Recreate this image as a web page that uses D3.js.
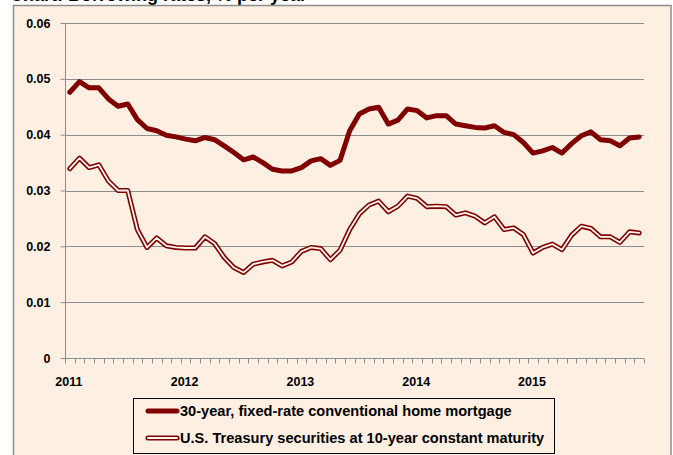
<!DOCTYPE html>
<html><head><meta charset="utf-8">
<script src="https://cdn.jsdelivr.net/npm/d3@7"></script>
<style>body{margin:0;background:#fff;}svg{display:block;}</style>
</head><body>
<svg id="c" width="673" height="455"></svg>
<script>
const years = ["2011","2012","2013","2014","2015"];
const months = [];
years.forEach(y => { for (let m = 1; m <= 12; m++) months.push(y + "-" + String(m).padStart(2, "0")); });
const yTicks = [0, 0.01, 0.02, 0.03, 0.04, 0.05, 0.06];
const yTickLabels = ["0", "0.01", "0.02", "0.03", "0.04", "0.05", "0.06"];
const seriesNames = ["30-year, fixed-rate conventional home mortgage", "U.S. Treasury securities at 10-year constant maturity"];
const mortgage = [
  0.0476,0.0495,0.0484,0.0484,0.0464,0.0451,0.0455,0.0427,0.0411,0.0407,0.0399,0.0396,
  0.0392,0.0389,0.0395,0.0391,0.0380,0.0368,0.0355,0.0360,0.0350,0.0338,0.0335,0.0335,
  0.0341,0.0353,0.0357,0.0345,0.0354,0.0407,0.0437,0.0446,0.0449,0.0419,0.0426,0.0446,
  0.0443,0.0430,0.0434,0.0434,0.0419,0.0416,0.0413,0.0412,0.0416,0.0404,0.0400,0.0386,
  0.0367,0.0371,0.0377,0.0367,0.0384,0.0398,0.0405,0.0391,0.0389,0.0380,0.0394,0.0396];
const treasury = [
  0.0339,0.0358,0.0341,0.0346,0.0317,0.0300,0.0300,0.0230,0.0198,0.0215,0.0201,0.0198,
  0.0197,0.0197,0.0217,0.0205,0.0180,0.0162,0.0153,0.0168,0.0172,0.0175,0.0165,0.0172,
  0.0191,0.0198,0.0196,0.0176,0.0193,0.0230,0.0258,0.0274,0.0281,0.0262,0.0272,0.0290,
  0.0286,0.0271,0.0272,0.0271,0.0256,0.0260,0.0254,0.0242,0.0253,0.0230,0.0233,0.0221,
  0.0188,0.0198,0.0204,0.0194,0.0220,0.0236,0.0232,0.0217,0.0217,0.0207,0.0226,0.0224];

const svg = d3.select("#c");
const red = "#800000";
const bg = "#FDEFE2";
const grid = "#8e8e8e";

// title (cut off at top, as in the reference)
svg.append("text").attr("x", 10).attr("y", 1)
  .attr("font-family", "Liberation Sans, Arial, sans-serif").attr("font-weight", "bold")
  .attr("font-size", 18).attr("fill", "#000")
  .text("Chart: Borrowing rates, % per year");

// panel
svg.append("rect").attr("x", 13.5).attr("y", 5.5).attr("width", 657.5).attr("height", 460)
  .attr("fill", bg).attr("stroke", "#8c8c8c").attr("stroke-width", 1.5);

const L = 65, R = 644, T = 23, B = 358;
const x = d3.scaleBand().domain(months).range([L, R]).padding(0);
const y = d3.scaleLinear().domain([0, 0.06]).range([B, T]);

// gridlines
svg.append("g").selectAll("line").data(yTicks.filter(d => d > 0)).join("line")
  .attr("x1", L).attr("x2", R).attr("y1", d => Math.round(y(d)) + 0.5).attr("y2", d => Math.round(y(d)) + 0.5)
  .attr("stroke", grid).attr("stroke-width", 1);

// y axis
const yAxis = d3.axisLeft(y).tickValues(yTicks).tickSize(5).tickPadding(10)
  .tickFormat((d, i) => yTickLabels[i]);
const gy = svg.append("g").attr("transform", `translate(${L + 0.5},0)`).call(yAxis);
gy.selectAll("line").attr("stroke", grid);
gy.select(".domain").attr("stroke", grid).attr("d", `M0,${T}V${B}`);
gy.selectAll("text").attr("font-family", "Liberation Sans, Arial, sans-serif")
  .attr("font-weight", "bold").attr("font-size", 12.5).attr("fill", "#000");

// x axis
const gx = svg.append("g").attr("transform", `translate(0,${B + 0.5})`);
gx.append("line").attr("x1", L).attr("x2", R).attr("stroke", grid);
const bounds = months.map(m => x(m)).concat([R]);
gx.selectAll("line.tk").data(bounds).join("line").attr("class", "tk")
  .attr("x1", d => Math.round(d) + 0.5).attr("x2", d => Math.round(d) + 0.5)
  .attr("y1", 0).attr("y2", 5).attr("stroke", grid);
gx.selectAll("text").data(years).join("text")
  .attr("x", d => x(d + "-01") + x.bandwidth() / 2 - 1).attr("y", 27)
  .attr("text-anchor", "middle")
  .attr("font-family", "Liberation Sans, Arial, sans-serif").attr("font-weight", "bold")
  .attr("font-size", 12.5).attr("fill", "#000").text(d => d);

const line = d3.line().x((d, i) => x(months[i]) + x.bandwidth() / 2).y(d => y(d));

// treasury: double line
svg.append("path").datum(treasury).attr("d", line).attr("fill", "none")
  .attr("stroke", red).attr("stroke-width", 5).attr("stroke-linejoin", "round").attr("stroke-linecap", "round");
svg.append("path").datum(treasury).attr("d", line).attr("fill", "none")
  .attr("stroke", "#FFF6F0").attr("stroke-width", 1.8).attr("stroke-linejoin", "round").attr("stroke-linecap", "round");
// mortgage
svg.append("path").datum(mortgage).attr("d", line).attr("fill", "none")
  .attr("stroke", red).attr("stroke-width", 5).attr("stroke-linejoin", "round").attr("stroke-linecap", "round");

// legend
const lg = svg.append("g");
lg.append("rect").attr("x", 133.5).attr("y", 398.5).attr("width", 421).attr("height", 55)
  .attr("fill", bg).attr("stroke", "#000").attr("stroke-width", 1);
const ly = [411, 438];
lg.append("line").attr("x1", 148).attr("x2", 177).attr("y1", ly[0]).attr("y2", ly[0])
  .attr("stroke", red).attr("stroke-width", 5).attr("stroke-linecap", "round");
lg.append("line").attr("x1", 148).attr("x2", 177).attr("y1", ly[1]).attr("y2", ly[1])
  .attr("stroke", red).attr("stroke-width", 5).attr("stroke-linecap", "round");
lg.append("line").attr("x1", 148).attr("x2", 177).attr("y1", ly[1]).attr("y2", ly[1])
  .attr("stroke", "#FFF6F0").attr("stroke-width", 1.8).attr("stroke-linecap", "round");
lg.selectAll("text").data(seriesNames).join("text")
  .attr("x", 180).attr("y", (d, i) => ly[i] + 5)
  .attr("font-family", "Liberation Sans, Arial, sans-serif").attr("font-weight", "bold")
  .attr("font-size", 14.6).attr("fill", "#000").text(d => d);
</script>
</body></html>
